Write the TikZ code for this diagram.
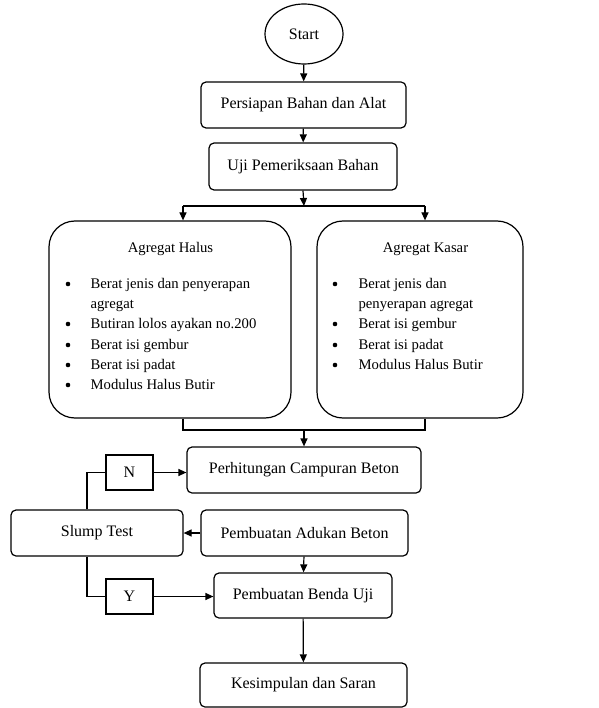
\documentclass[tikz,border=0pt]{standalone}
\usepackage{fontspec}
\setmainfont{Liberation Serif}
\usetikzlibrary{arrows.meta,shapes.geometric}
\begin{document}
\begin{tikzpicture}[x=1pt,y=-1pt,line width=1.2pt,
  >={Triangle[length=8pt,width=7pt]},
  box/.style={draw,rounded corners=5pt,inner sep=0pt,font=\fontsize{16}{19}\selectfont},
  bigbox/.style={draw,rounded corners=26pt,inner sep=0pt},
  yn/.style={draw,inner sep=0pt,minimum width=47pt,minimum height=35pt,font=\fontsize{16}{19}\selectfont},
  itm/.style={anchor=base west,inner sep=0pt,font=\fontsize{14.7}{17}\selectfont},
  bul/.style={circle,fill,inner sep=0pt,minimum size=4.6pt},
  ttl/.style={anchor=base,inner sep=0pt,font=\fontsize{14.7}{17}\selectfont}]
\useasboundingbox (0,0) rectangle (598,708);

\node[draw,ellipse,minimum width=78pt,minimum height=60pt,inner sep=0pt,font=\fontsize{16}{19}\selectfont] (start) at (304,34) {Start};
\node[box,minimum width=205pt,minimum height=46pt] (persiapan) at (303.5,105) {Persiapan Bahan dan Alat};
\node[box,minimum width=188pt,minimum height=47pt] (uji) at (303,166.5) {Uji Pemeriksaan Bahan};

\node[bigbox,minimum width=242pt,minimum height=197pt] (halus) at (170,319.5) {};
\node[bigbox,minimum width=206pt,minimum height=197pt] (kasar) at (420,319.5) {};

% left box text
\node[ttl] (ht) at (170.5,252.5) {Agregat Halus};
\node[bul] (hb1) at (68,284) {};
\node[itm] (hi1) at (90,288) {Berat jenis dan penyerapan};
\node[itm] (hi1b) at (90,308) {agregat};
\node[bul] (hb2) at (68,324) {};
\node[itm] (hi2) at (90,328) {Butiran lolos ayakan no.200};
\node[bul] (hb3) at (68,345) {};
\node[itm] (hi3) at (90,349) {Berat isi gembur};
\node[bul] (hb4) at (68,365) {};
\node[itm] (hi4) at (90,369) {Berat isi padat};
\node[bul] (hb5) at (68,385) {};
\node[itm] (hi5) at (90,389) {Modulus Halus Butir};

% right box text
\node[ttl] (kt) at (425.5,252.5) {Agregat Kasar};
\node[bul] (kb1) at (335,284) {};
\node[itm] (ki1) at (358,288) {Berat jenis dan};
\node[itm] (ki1b) at (358,308) {penyerapan agregat};
\node[bul] (kb2) at (335,324) {};
\node[itm] (ki2) at (358,328) {Berat isi gembur};
\node[bul] (kb3) at (335,345) {};
\node[itm] (ki3) at (358,349) {Berat isi padat};
\node[bul] (kb4) at (335,365) {};
\node[itm] (ki4) at (358,369) {Modulus Halus Butir};

\node[box,minimum width=234pt,minimum height=46pt] (hitung) at (304,470) {Perhitungan Campuran Beton};
\node[yn] (N) at (129.5,472.5) {N};
\node[box,minimum width=172pt,minimum height=46pt] (slump) at (97,533) {Slump Test};
\node[box,minimum width=207pt,minimum height=46pt] (aduk) at (304.5,533) {Pembuatan Adukan Beton};
\node[box,minimum width=178pt,minimum height=45pt] (benda) at (303,595.5) {Pembuatan Benda Uji};
\node[yn] (Y) at (129.5,596.5) {Y};
\node[box,minimum width=207pt,minimum height=44pt] (kesimpulan) at (303.5,685) {Kesimpulan dan Saran};

% connectors
\coordinate (splitc) at (304,206);
\coordinate (sl) at (183,206);
\coordinate (sr) at (425,206);
\coordinate (jl) at (183,430);
\coordinate (jr) at (425,430);
\coordinate (jc) at (304,430);

\draw[->] (start) -- (persiapan);
\draw[->] (persiapan) -- (uji);
\draw[->] (uji.south) -- (splitc);
\draw (sl) -- (sr);
\draw[->] (sl) -- (sl |- halus.north);
\draw[->] (sr) -- (sr |- kasar.north);
\draw (sl |- halus.south) -- (jl) -- (jr) -- (sr |- kasar.south);
\draw[->] (jc) -- (hitung.north);
\draw[->] (N.east) -- (N.east -| hitung.west);
\draw ([xshift=-10pt]slump.north) |- (N.west);
\draw[->] (aduk) -- (slump);
\draw[->] (aduk) -- (benda);
\draw ([xshift=-10pt]slump.south) |- (Y.west);
\draw[->] (Y.east) -- (Y.east -| benda.west);
\draw[->] (benda) -- (kesimpulan);
\end{tikzpicture}
\end{document}
